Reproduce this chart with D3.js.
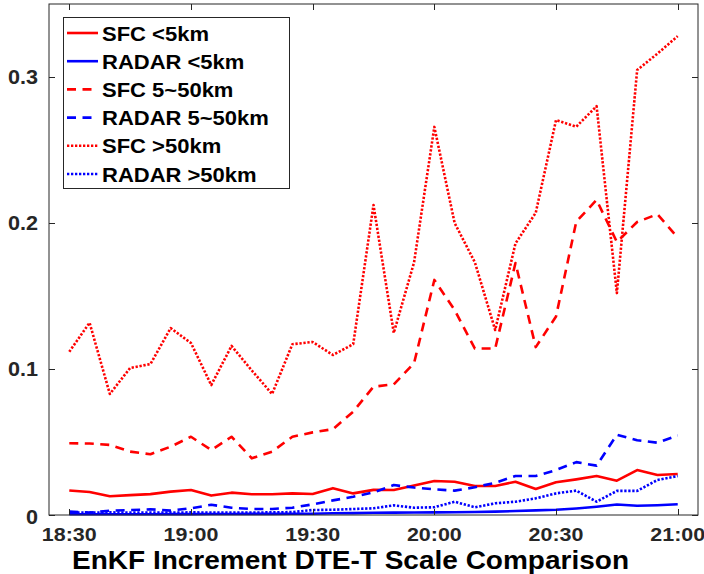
<!DOCTYPE html>
<html>
<head>
<meta charset="utf-8">
<script src="https://cdn.jsdelivr.net/npm/d3@7"></script>
<style>
  html, body { margin: 0; padding: 0; background: #fff; }
  svg { display: block; }
  text { font-family: "Liberation Sans", Arial, Helvetica, sans-serif; font-weight: bold; }
</style>
</head>
<body>
<svg id="chart" width="704" height="574"></svg>
<script>
// Analysis times (5-minute cycles)
const times = ["18:30","18:35","18:40","18:45","18:50","18:55","19:00","19:05","19:10","19:15",
               "19:20","19:25","19:30","19:35","19:40","19:45","19:50","19:55","20:00","20:05",
               "20:10","20:15","20:20","20:25","20:30","20:35","20:40","20:45","20:50","20:55","21:00"];

// DTE-T increment by observation type and scale band
const sfcNear   = [0.0168,0.0157,0.0128,0.0136,0.0143,0.0160,0.0171,0.0133,0.0153,0.0142,
                   0.0142,0.0148,0.0144,0.0184,0.0148,0.0172,0.0171,0.0202,0.0233,0.0228,
                   0.0199,0.0199,0.0228,0.0178,0.0224,0.0244,0.0267,0.0235,0.0308,0.0274,0.0281];
const radarNear = [0.0005,0.0005,0.0005,0.0005,0.0005,0.0006,0.0006,0.0007,0.0007,0.0008,
                   0.0008,0.0009,0.0009,0.0012,0.0013,0.0015,0.0016,0.0017,0.0018,0.0019,
                   0.0021,0.0023,0.0027,0.0032,0.0036,0.0045,0.0057,0.0072,0.0063,0.0067,0.0074];
const sfcMid    = [0.0491,0.0490,0.0480,0.0434,0.0416,0.0468,0.0536,0.0445,0.0536,0.0388,
                   0.0434,0.0536,0.0566,0.0588,0.0708,0.0879,0.0895,0.1040,0.1610,0.1404,
                   0.1140,0.1140,0.1726,0.1150,0.1360,0.2010,0.2158,0.1870,0.2007,0.2060,0.1900];
const radarMid  = [0.0023,0.0016,0.0030,0.0034,0.0039,0.0030,0.0046,0.0070,0.0050,0.0041,
                   0.0041,0.0050,0.0073,0.0100,0.0125,0.0155,0.0205,0.0188,0.0176,0.0167,
                   0.0190,0.0221,0.0267,0.0267,0.0308,0.0362,0.0338,0.0550,0.0512,0.0495,0.0545];
const sfcFar    = [0.1118,0.1317,0.0829,0.1007,0.1034,0.1280,0.1178,0.0890,0.1158,0.0990,
                   0.0829,0.1170,0.1185,0.1096,0.1170,0.2123,0.1247,0.1730,0.2658,0.2000,
                   0.1730,0.1267,0.1860,0.2070,0.2705,0.2660,0.2800,0.1520,0.3048,0.3160,0.3280];
const radarFar  = [0.0016,0.0016,0.0018,0.0016,0.0017,0.0016,0.0018,0.0017,0.0016,0.0017,
                   0.0018,0.0020,0.0034,0.0036,0.0041,0.0046,0.0066,0.0050,0.0053,0.0091,
                   0.0053,0.0080,0.0091,0.0114,0.0148,0.0167,0.0091,0.0165,0.0165,0.0240,0.0267];

const seriesNames = ["SFC <5km","RADAR <5km","SFC 5~50km","RADAR 5~50km","SFC >50km","RADAR >50km"];
const xTickLabels = ["18:30","19:00","19:30","20:00","20:30","21:00"];
const yTickValues = [0, 0.1, 0.2, 0.3];
const titleText = "EnKF Increment DTE-T Scale Comparison";

const RED = "#ff0000", BLUE = "#0000ff";
const DASH = "9,6.5", DOT = "2.3,1.7";
const series = [
  { name: seriesNames[0], values: sfcNear,   color: RED,  dash: null },
  { name: seriesNames[1], values: radarNear, color: BLUE, dash: null },
  { name: seriesNames[2], values: sfcMid,    color: RED,  dash: DASH },
  { name: seriesNames[3], values: radarMid,  color: BLUE, dash: DASH },
  { name: seriesNames[4], values: sfcFar,    color: RED,  dash: DOT },
  { name: seriesNames[5], values: radarFar,  color: BLUE, dash: DOT }
];

// minutes after 18:30
const toMin = t => { const [h, m] = t.split(":").map(Number); return (h * 60 + m) - (18 * 60 + 30); };

const svg = d3.select("#chart");
const box = { left: 49, right: 698, top: 4, bottom: 515 };

const x = d3.scaleLinear().domain([-5, 155]).range([box.left, box.right]);
const y = d3.scaleLinear().domain([0, 0.35]).range([box.bottom, box.top]);

const AX = "#262626";

// plot lines
const line = d3.line().x((d, i) => x(toMin(times[i]))).y(d => y(d));
const plot = svg.append("g");
series.forEach(s => {
  plot.append("path")
    .datum(s.values)
    .attr("d", line)
    .attr("fill", "none")
    .attr("stroke", s.color)
    .attr("stroke-width", 2.6)
    .attr("stroke-linejoin", "round")
    .attr("stroke-dasharray", s.dash);
});

// axes box with inward ticks on all four sides
const axesG = svg.append("g");
axesG.append("rect")
  .attr("x", box.left).attr("y", box.top)
  .attr("width", box.right - box.left).attr("height", box.bottom - box.top)
  .attr("fill", "none").attr("stroke", AX).attr("stroke-width", 1);

const TL = 6;
xTickLabels.forEach(lbl => {
  const px = Math.round(x(toMin(lbl))) + 0.5;
  axesG.append("line").attr("x1", px).attr("x2", px).attr("y1", box.bottom).attr("y2", box.bottom - TL)
    .attr("stroke", AX);
  axesG.append("line").attr("x1", px).attr("x2", px).attr("y1", box.top).attr("y2", box.top + TL)
    .attr("stroke", AX);
  axesG.append("text")
    .attr("transform", `translate(${x(toMin(lbl))},540.5) scale(1.13,1)`)
    .attr("text-anchor", "middle")
    .attr("font-size", 19)
    .attr("fill", AX)
    .text(lbl);
});
yTickValues.forEach(v => {
  const py = Math.round(y(v)) + 0.5;
  axesG.append("line").attr("x1", box.left).attr("x2", box.left + TL).attr("y1", py).attr("y2", py)
    .attr("stroke", AX);
  axesG.append("line").attr("x1", box.right).attr("x2", box.right - TL).attr("y1", py).attr("y2", py)
    .attr("stroke", AX);
  axesG.append("text")
    .attr("transform", `translate(38,${y(v) + 7 + (v === 0 ? 2 : 0)}) scale(1.08,1)`)
    .attr("text-anchor", "end")
    .attr("font-size", 20)
    .attr("fill", AX)
    .text(d3.format(".1~f")(v));
});

// title (condensed lettering)
svg.append("text")
  .attr("x", 72).attr("y", 568.5)
  .attr("font-size", 26)
  .attr("fill", "#000")
  .attr("textLength", 557)
  .attr("lengthAdjust", "spacingAndGlyphs")
  .text(titleText);

// legend
const lg = svg.append("g");
lg.append("rect")
  .attr("x", 63.5).attr("y", 17.5).attr("width", 226).attr("height", 171)
  .attr("fill", "#fff").attr("stroke", AX).attr("stroke-width", 1);
const rowY = d3.scaleLinear().domain([0, 5]).range([33, 174]);
series.forEach((s, i) => {
  const ry = rowY(i);
  lg.append("line")
    .attr("x1", 67).attr("x2", 98).attr("y1", ry).attr("y2", ry)
    .attr("stroke", s.color).attr("stroke-width", 2.6)
    .attr("stroke-dasharray", s.dash);
  lg.append("text")
    .attr("transform", `translate(102,${ry + 7.5}) scale(1.1,1)`)
    .attr("font-size", 20)
    .attr("fill", "#000")
    .text(s.name);
});
</script>
</body>
</html>
